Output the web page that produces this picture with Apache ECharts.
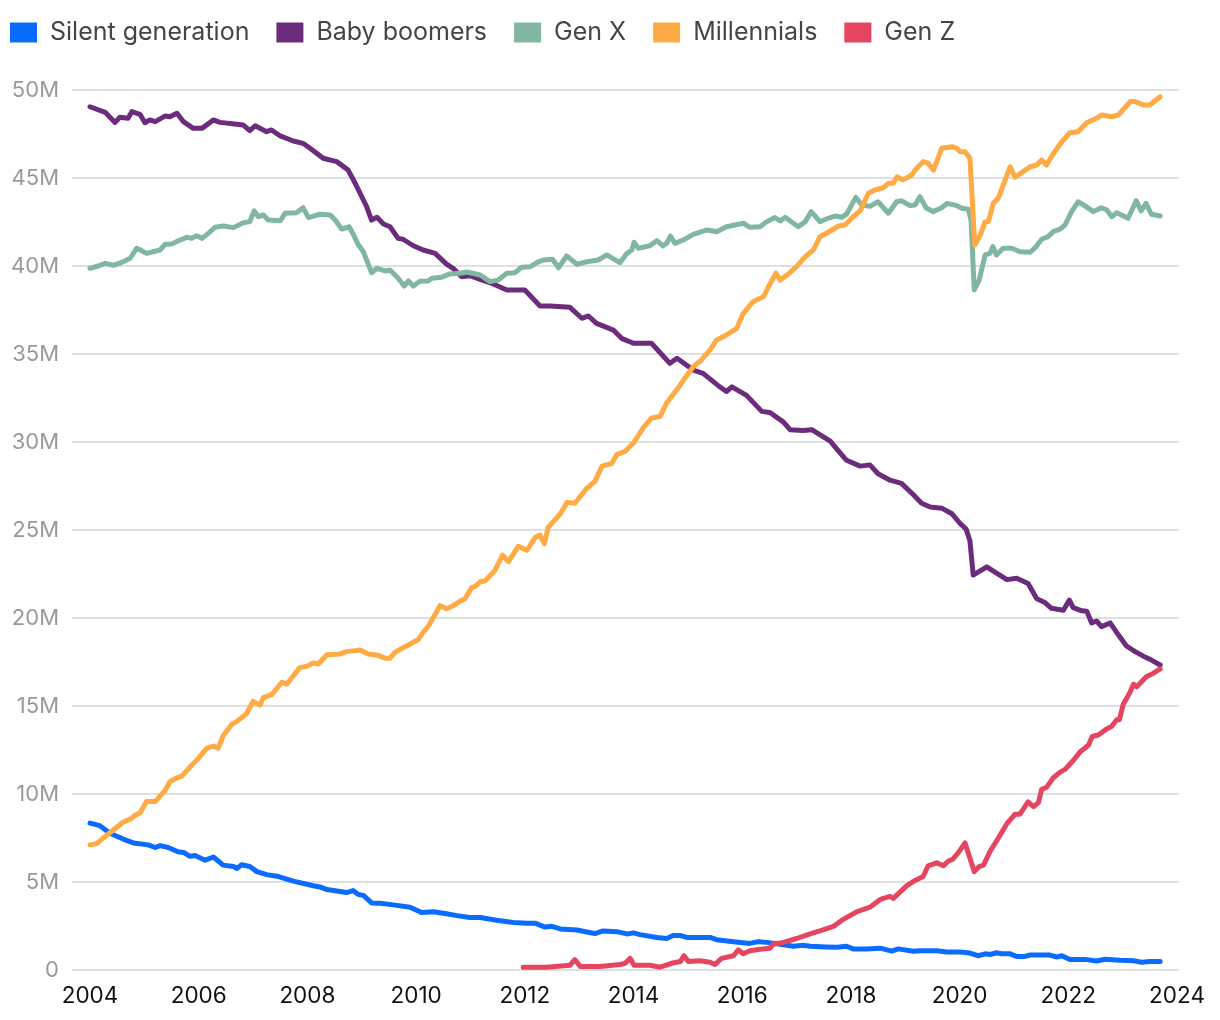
<!DOCTYPE html>
<html>
<head>
<meta charset="utf-8">
<script src="https://cdn.jsdelivr.net/npm/echarts@6/dist/echarts.min.js"></script>
<style>
  html, body { margin: 0; padding: 0; background: #fff; }
  #chart { width: 1220px; height: 1020px; }
</style>
</head>
<body>
<div id="chart"></div>
<script>
// Values in millions, x in decimal years
const seriesNames = ['Silent generation', 'Baby boomers', 'Gen X', 'Millennials', 'Gen Z'];
const yearTicks = [2004, 2006, 2008, 2010, 2012, 2014, 2016, 2018, 2020, 2022, 2024];

const silent = [
  [2004.00,8.35],[2004.18,8.20],[2004.37,7.77],[2004.61,7.44],[2004.80,7.22],[2005.07,7.11],[2005.20,6.96],[2005.29,7.07],
  [2005.44,6.96],[2005.62,6.72],[2005.72,6.68],[2005.84,6.46],[2005.93,6.51],[2006.12,6.24],[2006.27,6.42],[2006.45,5.96],
  [2006.64,5.88],[2006.70,5.77],[2006.79,5.98],[2006.94,5.88],[2007.07,5.59],[2007.25,5.42],[2007.44,5.33],[2007.74,5.05],
  [2008.11,4.79],[2008.23,4.72],[2008.36,4.57],[2008.72,4.40],[2008.84,4.51],[2008.94,4.29],[2009.03,4.24],[2009.18,3.81],
  [2009.34,3.79],[2009.58,3.70],[2009.89,3.57],[2010.10,3.27],[2010.32,3.31],[2010.56,3.20],[2010.75,3.09],[2010.99,2.98],
  [2011.18,2.98],[2011.48,2.83],[2011.79,2.70],[2012.04,2.66],[2012.19,2.66],[2012.37,2.44],[2012.50,2.48],[2012.65,2.33],
  [2012.96,2.27],[2013.14,2.16],[2013.29,2.07],[2013.44,2.22],[2013.69,2.18],[2013.88,2.05],[2014.00,2.11],[2014.12,2.01],
  [2014.43,1.85],[2014.61,1.79],[2014.73,1.96],[2014.86,1.96],[2014.98,1.85],[2015.41,1.85],[2015.53,1.72],[2015.84,1.61],
  [2016.14,1.51],[2016.30,1.61],[2016.45,1.57],[2016.70,1.46],[2016.94,1.35],[2017.12,1.41],[2017.25,1.35],[2017.55,1.31],
  [2017.74,1.29],[2017.92,1.35],[2018.04,1.20],[2018.29,1.20],[2018.54,1.24],[2018.75,1.07],[2018.87,1.20],[2019.15,1.07],
  [2019.27,1.09],[2019.58,1.09],[2019.76,1.02],[2020.01,1.02],[2020.19,0.96],[2020.34,0.81],[2020.47,0.92],[2020.56,0.88],
  [2020.68,0.98],[2020.77,0.92],[2020.93,0.92],[2021.05,0.77],[2021.20,0.77],[2021.30,0.85],[2021.66,0.85],[2021.79,0.74],
  [2021.88,0.81],[2022.03,0.59],[2022.34,0.59],[2022.52,0.51],[2022.68,0.61],[2022.95,0.55],[2023.20,0.53],[2023.35,0.44],
  [2023.50,0.48],[2023.69,0.48]
];

const boomers = [
  [2004.00,49.05],[2004.28,48.73],[2004.46,48.16],[2004.55,48.45],[2004.70,48.39],[2004.77,48.77],[2004.92,48.62],[2005.01,48.14],
  [2005.10,48.30],[2005.20,48.20],[2005.38,48.52],[2005.47,48.48],[2005.60,48.68],[2005.72,48.20],[2005.90,47.82],[2006.06,47.82],
  [2006.27,48.30],[2006.39,48.16],[2006.70,48.05],[2006.82,48.01],[2006.94,47.69],[2007.04,47.97],[2007.25,47.63],[2007.34,47.73],
  [2007.50,47.39],[2007.74,47.10],[2007.92,46.97],[2008.11,46.55],[2008.29,46.12],[2008.54,45.93],[2008.75,45.45],[2008.88,44.70],
  [2009.03,43.75],[2009.09,43.37],[2009.18,42.61],[2009.28,42.77],[2009.40,42.39],[2009.52,42.23],[2009.67,41.57],[2009.76,41.52],
  [2009.95,41.15],[2010.13,40.91],[2010.35,40.72],[2010.56,40.11],[2010.68,39.87],[2010.84,39.39],[2010.99,39.45],[2011.18,39.24],
  [2011.42,38.98],[2011.67,38.64],[2012.00,38.64],[2012.28,37.73],[2012.46,37.73],[2012.83,37.65],[2013.05,37.03],[2013.17,37.16],
  [2013.32,36.74],[2013.63,36.36],[2013.78,35.89],[2014.00,35.61],[2014.33,35.61],[2014.67,34.47],[2014.80,34.76],[2014.89,34.56],
  [2015.10,34.09],[2015.28,33.90],[2015.56,33.20],[2015.71,32.87],[2015.81,33.13],[2016.08,32.65],[2016.36,31.74],[2016.51,31.68],
  [2016.76,31.13],[2016.88,30.70],[2017.12,30.65],[2017.28,30.70],[2017.62,30.05],[2017.77,29.50],[2017.92,28.96],[2018.17,28.63],
  [2018.35,28.70],[2018.50,28.20],[2018.72,27.83],[2018.93,27.65],[2019.15,27.00],[2019.30,26.52],[2019.46,26.31],[2019.67,26.24],
  [2019.86,25.92],[2020.01,25.37],[2020.12,25.05],[2020.19,24.39],[2020.25,22.44],[2020.50,22.91],[2020.68,22.55],[2020.87,22.18],
  [2021.05,22.26],[2021.26,21.96],[2021.42,21.09],[2021.57,20.88],[2021.69,20.55],[2021.91,20.44],[2022.02,21.02],[2022.09,20.59],
  [2022.25,20.41],[2022.34,20.38],[2022.43,19.72],[2022.52,19.83],[2022.61,19.51],[2022.77,19.72],[2022.89,19.18],[2023.07,18.41],
  [2023.23,18.09],[2023.38,17.83],[2023.53,17.61],[2023.69,17.33]
];

const genX = [
  [2004.00,39.87],[2004.15,40.00],[2004.28,40.15],[2004.43,40.04],[2004.61,40.24],[2004.74,40.44],[2004.86,41.01],[2005.04,40.72],
  [2005.29,40.91],[2005.38,41.23],[2005.50,41.25],[2005.66,41.48],[2005.78,41.63],[2005.87,41.57],[2005.96,41.72],[2006.06,41.57],
  [2006.18,41.86],[2006.30,42.20],[2006.45,42.27],[2006.64,42.18],[2006.82,42.46],[2006.94,42.52],[2007.02,43.13],[2007.10,42.80],
  [2007.19,42.90],[2007.28,42.61],[2007.50,42.57],[2007.59,43.00],[2007.80,43.03],[2007.92,43.31],[2008.02,42.75],[2008.23,42.94],
  [2008.42,42.90],[2008.51,42.61],[2008.63,42.10],[2008.77,42.23],[2008.84,41.82],[2008.94,41.19],[2009.03,40.81],[2009.18,39.62],
  [2009.28,39.87],[2009.43,39.72],[2009.52,39.77],[2009.67,39.30],[2009.78,38.86],[2009.86,39.15],[2009.95,38.86],[2010.07,39.13],
  [2010.22,39.15],[2010.29,39.30],[2010.47,39.36],[2010.62,39.55],[2010.81,39.59],[2010.93,39.66],[2011.18,39.49],[2011.36,39.11],
  [2011.51,39.20],[2011.67,39.59],[2011.82,39.62],[2011.94,39.93],[2012.10,39.96],[2012.22,40.19],[2012.34,40.34],[2012.51,40.38],
  [2012.62,39.90],[2012.77,40.57],[2012.96,40.10],[2013.14,40.24],[2013.35,40.34],[2013.51,40.63],[2013.75,40.19],[2013.88,40.72],
  [2013.97,40.91],[2014.01,41.35],[2014.09,41.01],[2014.30,41.15],[2014.43,41.44],[2014.54,41.14],[2014.61,41.29],[2014.68,41.70],
  [2014.76,41.29],[2014.92,41.48],[2015.10,41.80],[2015.35,42.05],[2015.53,41.95],[2015.71,42.23],[2016.02,42.43],[2016.14,42.20],
  [2016.33,42.23],[2016.45,42.52],[2016.60,42.75],[2016.70,42.56],[2016.79,42.77],[2017.03,42.23],[2017.16,42.52],[2017.27,43.09],
  [2017.43,42.52],[2017.58,42.71],[2017.71,42.84],[2017.83,42.77],[2017.92,42.94],[2018.09,43.90],[2018.20,43.47],[2018.35,43.39],
  [2018.50,43.65],[2018.69,43.00],[2018.84,43.65],[2018.93,43.71],[2019.09,43.43],[2019.18,43.47],[2019.27,43.94],[2019.39,43.28],
  [2019.52,43.09],[2019.67,43.31],[2019.77,43.56],[2019.95,43.43],[2020.04,43.28],[2020.16,43.22],[2020.21,42.61],[2020.27,38.64],
  [2020.36,39.20],[2020.47,40.63],[2020.56,40.72],[2020.61,41.10],[2020.68,40.63],[2020.80,41.01],[2020.96,41.01],[2021.11,40.81],
  [2021.30,40.78],[2021.39,41.04],[2021.51,41.52],[2021.63,41.67],[2021.72,41.95],[2021.85,42.09],[2021.94,42.33],[2022.06,43.09],
  [2022.18,43.65],[2022.28,43.47],[2022.46,43.09],[2022.61,43.31],[2022.71,43.18],[2022.80,42.80],[2022.89,43.03],[2023.10,42.71],
  [2023.25,43.71],[2023.34,43.13],[2023.43,43.56],[2023.53,42.94],[2023.69,42.84]
];

const millennials = [
  [2004.00,7.11],[2004.12,7.18],[2004.22,7.44],[2004.40,7.88],[2004.61,8.41],[2004.74,8.57],[2004.83,8.79],[2004.92,8.92],
  [2005.04,9.57],[2005.20,9.57],[2005.38,10.20],[2005.47,10.70],[2005.60,10.92],[2005.69,11.02],[2005.84,11.53],[2005.99,12.01],
  [2006.15,12.61],[2006.27,12.72],[2006.36,12.61],[2006.45,13.31],[2006.61,13.96],[2006.70,14.11],[2006.88,14.57],[2007.00,15.26],
  [2007.13,15.05],[2007.19,15.48],[2007.34,15.64],[2007.53,16.35],[2007.62,16.24],[2007.86,17.18],[2007.99,17.26],[2008.11,17.44],
  [2008.20,17.39],[2008.36,17.91],[2008.60,17.96],[2008.72,18.09],[2008.97,18.18],[2009.12,17.96],[2009.30,17.88],[2009.43,17.72],
  [2009.52,17.72],[2009.61,18.05],[2009.76,18.31],[2009.89,18.52],[2010.04,18.78],[2010.13,19.18],[2010.22,19.51],[2010.44,20.70],
  [2010.56,20.52],[2010.68,20.70],[2010.81,20.96],[2010.90,21.09],[2011.02,21.72],[2011.08,21.78],[2011.18,22.06],[2011.27,22.11],
  [2011.45,22.70],[2011.59,23.57],[2011.70,23.20],[2011.88,24.07],[2012.04,23.85],[2012.19,24.57],[2012.28,24.72],[2012.36,24.22],
  [2012.43,25.15],[2012.65,25.91],[2012.78,26.57],[2012.92,26.52],[2013.13,27.33],[2013.29,27.76],[2013.42,28.63],[2013.60,28.78],
  [2013.69,29.28],[2013.84,29.46],[2014.00,29.94],[2014.18,30.81],[2014.33,31.35],[2014.49,31.46],[2014.61,32.22],[2014.80,32.98],
  [2014.92,33.52],[2015.10,34.28],[2015.25,34.66],[2015.41,35.23],[2015.53,35.80],[2015.71,36.08],[2015.90,36.46],[2016.02,37.31],
  [2016.20,37.97],[2016.39,38.26],[2016.51,38.98],[2016.62,39.59],[2016.70,39.20],[2016.85,39.55],[2017.00,39.96],[2017.16,40.53],
  [2017.31,40.91],[2017.43,41.66],[2017.55,41.86],[2017.77,42.27],[2017.89,42.33],[2018.04,42.80],[2018.17,43.13],[2018.32,44.13],
  [2018.44,44.32],[2018.60,44.45],[2018.69,44.70],[2018.78,44.70],[2018.85,45.07],[2018.96,44.89],[2019.12,45.17],[2019.18,45.45],
  [2019.33,45.93],[2019.42,45.84],[2019.52,45.45],[2019.67,46.69],[2019.86,46.78],[2019.95,46.69],[2020.01,46.49],[2020.10,46.49],
  [2020.19,46.12],[2020.28,41.19],[2020.38,41.76],[2020.47,42.52],[2020.53,42.52],[2020.62,43.56],[2020.71,43.85],[2020.84,44.89],
  [2020.93,45.64],[2021.02,45.04],[2021.17,45.36],[2021.30,45.64],[2021.42,45.74],[2021.51,46.02],[2021.60,45.74],[2021.72,46.36],
  [2021.88,47.06],[2022.03,47.57],[2022.18,47.63],[2022.34,48.14],[2022.52,48.39],[2022.61,48.58],[2022.80,48.48],[2022.92,48.58],
  [2023.14,49.34],[2023.23,49.34],[2023.38,49.15],[2023.50,49.15],[2023.69,49.62]
];

const genZ = [
  [2011.97,0.16],[2012.40,0.16],[2012.83,0.27],[2012.92,0.59],[2013.02,0.20],[2013.38,0.20],[2013.75,0.31],[2013.84,0.38],
  [2013.94,0.66],[2014.01,0.27],[2014.30,0.27],[2014.49,0.16],[2014.70,0.38],[2014.86,0.48],[2014.93,0.81],[2015.01,0.48],
  [2015.22,0.53],[2015.41,0.44],[2015.50,0.31],[2015.62,0.66],[2015.84,0.81],[2015.93,1.14],[2016.02,0.92],[2016.14,1.09],
  [2016.33,1.18],[2016.51,1.24],[2016.57,1.46],[2016.76,1.57],[2017.00,1.79],[2017.25,2.05],[2017.43,2.22],[2017.68,2.48],
  [2017.86,2.88],[2018.11,3.31],[2018.35,3.57],[2018.54,4.01],[2018.72,4.18],[2018.78,4.07],[2019.03,4.79],[2019.18,5.09],
  [2019.33,5.31],[2019.42,5.92],[2019.58,6.09],[2019.70,5.92],[2019.79,6.18],[2019.88,6.31],[2019.98,6.68],[2020.10,7.22],
  [2020.27,5.59],[2020.36,5.88],[2020.44,5.96],[2020.56,6.74],[2020.68,7.33],[2020.87,8.31],[2021.02,8.85],[2021.11,8.85],
  [2021.26,9.55],[2021.36,9.28],[2021.45,9.51],[2021.51,10.27],[2021.60,10.38],[2021.72,10.91],[2021.85,11.24],[2021.94,11.40],
  [2022.09,11.90],[2022.22,12.40],[2022.37,12.77],[2022.44,13.27],[2022.55,13.35],[2022.71,13.70],[2022.80,13.85],[2022.89,14.22],
  [2022.94,14.22],[2023.01,15.09],[2023.14,15.81],[2023.20,16.24],[2023.26,16.09],[2023.44,16.68],[2023.56,16.85],[2023.69,17.11]
];

const colors = ['#0a6cff', '#6b2c7d', '#81b6a1', '#ffab45', '#e5455f'];
const allData = [silent, boomers, genX, millennials, genZ];

const chart = echarts.init(document.getElementById('chart'), null, { renderer: 'canvas' });
const FONT = 'Inter, "Noto Sans", sans-serif';

chart.setOption({
  animation: false,
  backgroundColor: '#ffffff',
  color: colors,
  textStyle: { fontFamily: FONT },
  legend: {
    left: 10,
    top: 20,
    padding: 0,
    icon: 'rect',
    itemWidth: 27,
    itemHeight: 20,
    itemGap: 27,
    textStyle: { fontSize: 25, color: '#454545', fontFamily: FONT, padding: [0, 0, 0, 8] },
    data: seriesNames
  },
  grid: { left: 72, right: 41, top: 90, bottom: 50, containLabel: false },
  xAxis: {
    type: 'value',
    min: 2004 - 18 / 54.35,
    max: 2024 + 2 / 54.35,
    axisLine: { show: false },
    axisTick: { show: false },
    splitLine: { show: false },
    axisLabel: {
      customValues: yearTicks,
      formatter: v => String(Math.round(v)),
      fontSize: 22.5,
      color: '#111111',
      margin: 15,
      fontFamily: FONT
    }
  },
  yAxis: {
    type: 'value',
    min: 0,
    max: 50,
    interval: 5,
    axisLine: { show: false },
    axisTick: { show: false },
    splitLine: { lineStyle: { color: '#d3d6d7', width: 1.5 } },
    axisLabel: {
      formatter: v => v === 0 ? '0' : v + 'M',
      fontSize: 22,
      color: '#999999',
      margin: 13,
      fontFamily: FONT
    }
  },
  series: seriesNames.map((name, i) => ({
    name,
    type: 'line',
    data: allData[i],
    showSymbol: false,
    symbol: 'none',
    lineStyle: { width: 5, color: colors[i], cap: 'round', join: 'round' },
    itemStyle: { color: colors[i] },
    emphasis: { disabled: true }
  }))
});
</script>
</body>
</html>
